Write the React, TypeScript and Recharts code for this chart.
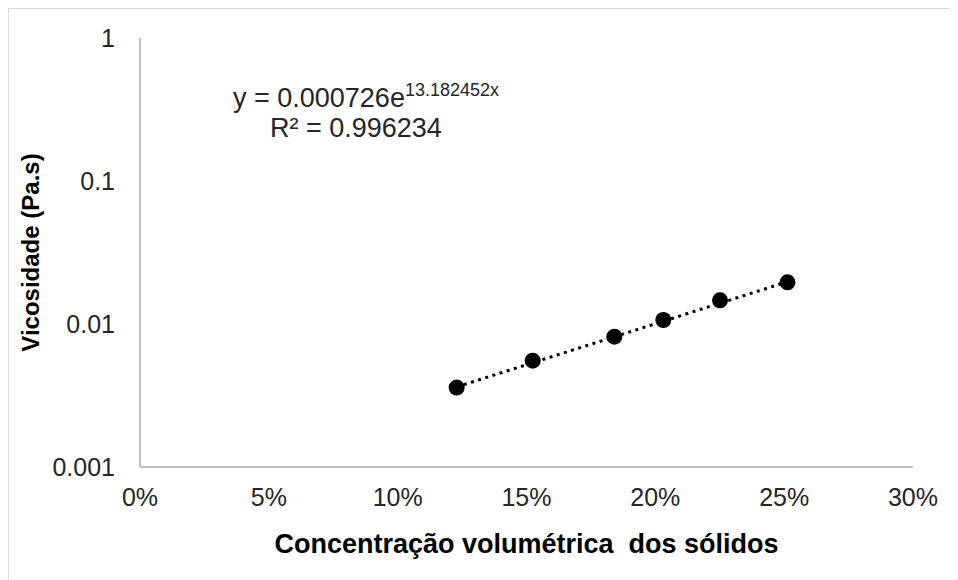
import { ScatterChart, Scatter, XAxis, YAxis, Label } from 'recharts';

// volumetric concentration of solids (fraction) and measured viscosity (Pa.s)
const concentration = [0.1229, 0.1524, 0.1841, 0.2031, 0.2251, 0.2513];
const viscosity = [0.00359, 0.00554, 0.00815, 0.01066, 0.01464, 0.01957];

// exponential trendline end points
const trendX = [0.1229, 0.2513];
const trendY = [0.00363, 0.01975];

const xTicks = [0, 0.05, 0.1, 0.15, 0.2, 0.25, 0.3];
const yTicks = [0.001, 0.01, 0.1, 1];
const yTickLabels = ['0.001', '0.01', '0.1', '1'];

// the nbsp keeps the double space of the original title
const xTitle = 'Concentração volumétrica\u00a0 dos sólidos';
const yTitle = 'Vicosidade (Pa.s)';
const eqMain = 'y = 0.000726e';
const eqExp = '13.182452x';
const eqR2 = 'R² = 0.996234';

const points = concentration.map((x, i) => ({ x, y: viscosity[i] }));
const trend = trendX.map((x, i) => ({ x, y: trendY[i] }));

const FONT = '"Liberation Sans", Arial, sans-serif';
const TEXT = '#262626';
const AXIS = '#bfbfbf';

const YTitle = (props: any) => {
  const vb = props.viewBox;
  const cx = 22;
  const cy = vb.y + vb.height / 2;
  return (
    <text
      x={cx}
      y={cy}
      transform={`rotate(-90, ${cx}, ${cy})`}
      textAnchor="middle"
      dominantBaseline="central"
      fontFamily={FONT}
      fontSize={24}
      fontWeight="bold"
      fill="#000"
    >
      {yTitle}
    </text>
  );
};

export default function App() {
  return (
    <div style={{ position: 'relative', width: 950, height: 572 }}>
      <div
        style={{
          position: 'absolute',
          left: -1,
          top: -1,
          width: 952,
          height: 574,
          borderTop: '2px solid #d9d9d9',
          borderLeft: '2px solid #d9d9d9',
          boxSizing: 'border-box',
        }}
      />
      <ScatterChart
        width={950}
        height={572}
        margin={{ top: 30, right: 45, bottom: 0, left: 0 }}
        style={{ fontFamily: FONT }}
      >
        <XAxis
          type="number"
          dataKey="x"
          domain={[0, 0.3]}
          ticks={xTicks}
          tickFormatter={(v: number) => `${Math.round(v * 100)}%`}
          height={113}
          tickLine={false}
          tickSize={0}
          tickMargin={21}
          axisLine={{ stroke: AXIS, strokeWidth: 2 }}
          tick={{ fill: TEXT, fontSize: 25, fontFamily: FONT }}
          allowDataOverflow
        >
          <Label
            value={xTitle}
            position="insideBottom"
            offset={27}
            style={{ fontSize: 27, fontWeight: 'bold', fill: '#000', fontFamily: FONT }}
          />
        </XAxis>
        <YAxis
          type="number"
          dataKey="y"
          scale="log"
          domain={[0.001, 1]}
          ticks={yTicks}
          tickFormatter={(v: number) => yTickLabels[yTicks.indexOf(v)] ?? String(v)}
          width={132}
          tickLine={false}
          tickSize={0}
          tickMargin={25}
          axisLine={{ stroke: AXIS, strokeWidth: 2 }}
          tick={{ fill: TEXT, fontSize: 25, fontFamily: FONT }}
          allowDataOverflow
        >
          <Label content={YTitle} />
        </YAxis>
        <Scatter
          data={trend}
          isAnimationActive={false}
          line={{ stroke: '#000', strokeWidth: 3, strokeDasharray: '3 4.5' }}
          shape={() => <g />}
        />
        <Scatter
          data={points}
          isAnimationActive={false}
          fill="#000"
          shape={(p: any) => <circle cx={p.cx} cy={p.cy} r={8} fill="#000" />}
        />
        <text fontFamily={FONT} fill={TEXT} fontSize={27}>
          <tspan x={225} y={99}>{eqMain}</tspan>
          <tspan fontSize={18} dy={-11}>{eqExp}</tspan>
        </text>
        <text x={262} y={129} fontFamily={FONT} fill={TEXT} fontSize={27}>
          {eqR2}
        </text>
      </ScatterChart>
    </div>
  );
}
